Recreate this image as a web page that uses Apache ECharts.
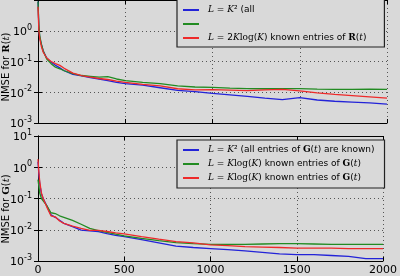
<!DOCTYPE html>
<html><head><meta charset="utf-8">
<script src="https://cdn.jsdelivr.net/npm/echarts@6/dist/echarts.min.js"></script>
<style>html,body{margin:0;padding:0;background:#d9d9d9}#c{width:400px;height:276px}</style>
</head><body><div id="c"></div>
<script>
const T = [0,5,10,20,30,50,75,100,125,150,200,250,300,350,400,450,500,600,700,800,900,1000,1100,1200,1300,1400,1500,1600,1700,1800,1900,2000];
const R_blue  = [9,1.2,0.6,0.35,0.22,0.13,0.095,0.075,0.062,0.05,0.038,0.034,0.030,0.027,0.024,0.021,0.019,0.017,0.014,0.0115,0.0105,0.0092,0.0082,0.0073,0.0064,0.0058,0.0067,0.0056,0.0051,0.0048,0.0045,0.0041];
const R_green = [9,1.5,0.7,0.35,0.22,0.12,0.085,0.065,0.058,0.05,0.04,0.035,0.033,0.031,0.032,0.027,0.024,0.021,0.019,0.016,0.0148,0.0143,0.0137,0.0132,0.013,0.0131,0.0132,0.0127,0.0124,0.0124,0.0125,0.0124];
const R_red   = [6,1.0,0.55,0.3,0.2,0.13,0.1,0.085,0.075,0.06,0.042,0.035,0.031,0.028,0.026,0.023,0.021,0.018,0.016,0.013,0.012,0.0122,0.0118,0.0113,0.012,0.0124,0.011,0.0095,0.0085,0.0078,0.0071,0.0064];
const G_blue  = [1.5,0.6,0.3,0.14,0.1,0.06,0.03,0.025,0.02,0.016,0.0125,0.0098,0.0093,0.0087,0.0075,0.0066,0.006,0.0048,0.0038,0.003,0.0027,0.0025,0.0023,0.0021,0.0019,0.0017,0.0016,0.0016,0.0015,0.0014,0.0012,0.0012];
const G_green = [0.4,0.25,0.15,0.1,0.09,0.06,0.035,0.033,0.028,0.025,0.02,0.015,0.011,0.0094,0.0082,0.0072,0.0064,0.0053,0.0045,0.0039,0.0036,0.0034,0.0034,0.0034,0.0035,0.0036,0.0036,0.0035,0.0034,0.0034,0.0034,0.0034];
const G_red   = [1.8,0.7,0.35,0.15,0.1,0.055,0.028,0.026,0.019,0.016,0.013,0.011,0.0095,0.0096,0.0088,0.008,0.0074,0.006,0.005,0.0042,0.0038,0.0033,0.0031,0.0029,0.0028,0.0027,0.0026,0.0026,0.0026,0.0025,0.0025,0.0025];
const X_TICKS = ['0','500','1000','1500','2000'];
const LEGEND_LABELS = {
  R1: '{m|L} = {m|K}² (all',
  R2: ' ',
  R3: '{m|L} = 2{m|K}{s|log}({m|K}) known entries of {b|R}({m|t})',
  G1: '{m|L} = {m|K}² (all entries of {b|G}({m|t}) are known)',
  G2: '{m|L} = {m|K}{s|log}({m|K}) known entries of {b|G}({m|t})',
  G3: '{m|L} = {m|K}{s|log}({m|K}) known entries of {b|G}({m|t})'
};
const COLORS = ['#2323d8','#228b22','#ee2a2a'];
const BG = '#d9d9d9';
const FONT = 'DejaVu Sans';

const pair = (ys) => T.map((t,i)=>[t, ys[i]]);
const chart = echarts.init(document.getElementById('c'));
const FS = 9;
const rich = {
  m:{fontFamily:'DejaVu Serif',fontStyle:'italic',fontSize:FS,color:'#000',lineHeight:12},
  s:{fontFamily:'DejaVu Serif',fontSize:FS,color:'#000',lineHeight:12},
  b:{fontFamily:'DejaVu Serif',fontWeight:'bold',fontSize:FS,color:'#000',lineHeight:12}
};
const richName = {
  m:{fontFamily:'DejaVu Serif',fontStyle:'italic',fontSize:10,color:'#000'},
  b:{fontFamily:'DejaVu Serif',fontWeight:'bold',fontSize:10,color:'#000'}
};
const grids = [
  {left:38,right:13,top:-5,height:128},
  {left:38,right:13,top:136,height:128}
];
function xAx(i, showLabels){
  return [{
    type:'value',gridIndex:i,min:0,max:2000,interval:500,
    axisLine:{show:true,lineStyle:{color:'#000',width:1}},
    axisTick:{show:true,inside:true,length:4,lineStyle:{color:'#000'}},
    axisLabel:{show:showLabels,fontFamily:FONT,fontSize:11,color:'#000',margin:4,
      formatter:(v)=>X_TICKS[Math.round(v/500)]},
    splitLine:{show:true,lineStyle:{color:'#555',type:[1,3],width:1}}
  },{
    type:'value',gridIndex:i,min:0,max:2000,interval:500,position:'top',
    axisLine:{show:true,lineStyle:{color:'#000',width:1}},
    axisTick:{show:true,inside:true,length:4,lineStyle:{color:'#000'}},
    axisLabel:{show:false},splitLine:{show:false}
  }];
}
function yAx(i, showMax){
  return [{
    type:'log',logBase:10,gridIndex:i,min:0.001,max:10,
    axisLine:{show:true,lineStyle:{color:'#000',width:1}},
    axisTick:{show:true,inside:true,length:4,lineStyle:{color:'#000'}},
    axisLabel:{fontFamily:FONT,color:'#000',margin:6,showMaxLabel:showMax,
      formatter:(v)=>'{b|10}{s|'+Math.round(Math.log10(v))+'}',
      rich:{b:{fontSize:11,fontFamily:FONT,lineHeight:14,verticalAlign:'bottom'},
            s:{fontSize:8,fontFamily:FONT,verticalAlign:'top',lineHeight:8}}},
    splitLine:{show:true,lineStyle:{color:'#555',type:[1,3],width:1}}
  },{
    type:'log',logBase:10,gridIndex:i,min:0.001,max:10,position:'right',
    axisLine:{show:true,lineStyle:{color:'#000',width:1}},
    axisTick:{show:true,inside:true,length:4,lineStyle:{color:'#000'}},
    axisLabel:{show:false},splitLine:{show:false}
  }];
}
function ser(name, data, ci, gi){
  return {name, type:'line', xAxisIndex:gi*2, yAxisIndex:gi*2, data:pair(data),
    symbol:'none', smooth:false, lineStyle:{width:1.3,color:COLORS[ci]}, itemStyle:{color:COLORS[ci]}, z:2+ci};
}
function legend(names, top, pad){
  return {data:names, orient:'vertical', left:177, top:top, itemGap:2, itemWidth:16, itemHeight:2,
    icon:'rect', backgroundColor:BG, borderColor:'#222', borderWidth:1.2, borderRadius:0,
    padding:pad,
    formatter:(n)=>LEGEND_LABELS[n],
    textStyle:{fontFamily:FONT,fontSize:FS,color:'#000',rich:rich,padding:[0,0,0,4],lineHeight:12}};
}
chart.setOption({
  backgroundColor:BG,
  animation:false,
  grid:grids,
  xAxis:[...xAx(0,false),...xAx(1,true)],
  yAxis:[...yAx(0,false),...yAx(1,true)],
  legend:[legend(['R1','R2','R3'],-2,[6,18,3,6]), legend(['G1','G2','G3'],140,[4,10,4,6])],
  series:[
    ser('R1',R_blue,0,0), ser('R2',R_green,1,0), ser('R3',R_red,2,0),
    ser('G1',G_blue,0,1), ser('G2',G_green,1,1), ser('G3',G_red,2,1)
  ],
  graphic:[
    {type:'text',x:6,y:67,rotation:Math.PI/2,style:{text:'NMSE for {b|R}({m|t})',rich:richName,font:'10px "DejaVu Sans"',fill:'#000',align:'center',verticalAlign:'middle'}},
    {type:'text',x:6,y:209,rotation:Math.PI/2,style:{text:'NMSE for {b|G}({m|t})',rich:richName,font:'10px "DejaVu Sans"',fill:'#000',align:'center',verticalAlign:'middle'}}
  ]
});
</script></body></html>
